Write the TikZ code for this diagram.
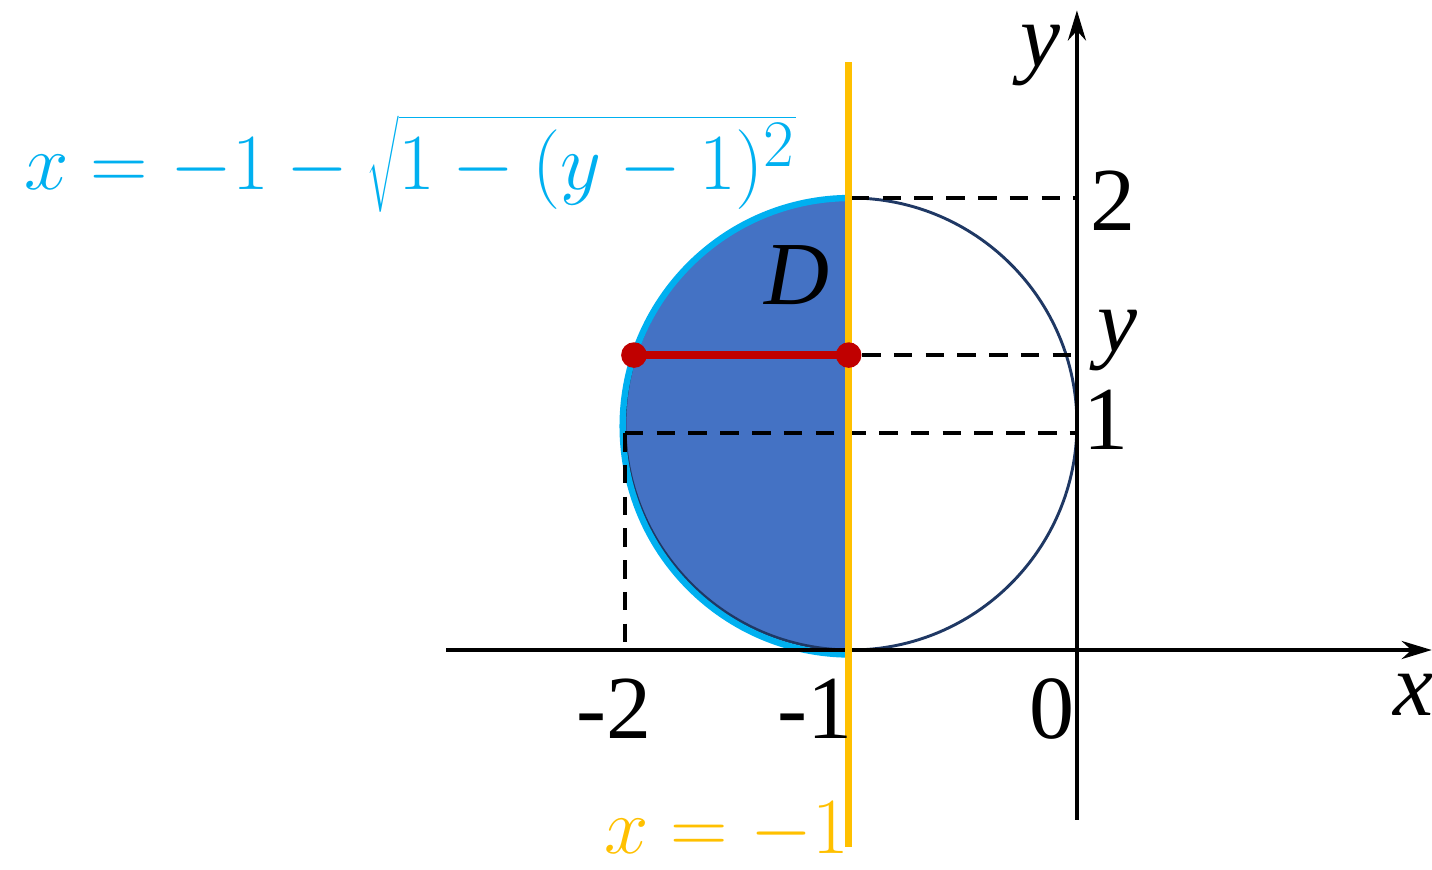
\documentclass[tikz,border=0pt]{standalone}
\usepackage{fontspec}
\setmainfont{Liberation Serif}
\usepackage{xcolor}
\usetikzlibrary{arrows.meta, positioning, calc}

\definecolor{fillblue}{RGB}{68,114,196}
\definecolor{skyblue}{RGB}{0,176,240}
\definecolor{gold}{RGB}{255,192,0}
\definecolor{navy}{RGB}{31,56,100}
\definecolor{darkred}{RGB}{192,0,0}

\begin{document}
\begin{tikzpicture}[x=3cm, y=3cm,
			axis/.style={-{Stealth[length=4mm, width=2.4mm]}, line width=1.5pt},
			guide/.style={dashed, dash pattern=on 7pt off 5pt, line width=1.3pt},
			lbl/.style={font=\fontsize{34}{40}\selectfont},
			formula/.style={font=\fontsize{24.88}{30}\selectfont, inner sep=0pt, transform shape},
			dot/.style={circle, fill=darkred, inner sep=0pt, minimum size=3.4mm}
			]
			\useasboundingbox (-4.765,-0.969) rectangle (1.571,2.876);
			% region D and circle
			\fill[fillblue] (-1,0) arc[start angle=-90, end angle=-270, radius=1] -- cycle;
			\draw[navy, line width=1.1pt] (-1,1) circle[radius=1];
			\draw[skyblue, line width=2.4pt] (-1,2) arc[start angle=90, end angle=270, radius=1.01];
			
			% dashed guides
			\coordinate (top) at (-1,2);
			\coordinate (ytop) at (0,2);
			\coordinate (yone) at (0,0.96);
			\coordinate (left) at (-2,0.96);
			\coordinate (foot) at (-2,0);
			\draw[guide] (top) -- (ytop);
			\draw[guide] (left) -- (yone);
			\draw[guide] (left) -- (foot);
			
			% axes
			\coordinate (xs) at (-2.79,0);
			\coordinate (xe) at (1.57,0);
			\coordinate (ys) at (0,-0.75);
			\coordinate (ye) at (0,2.83);
			\draw[axis] (xs) -- (xe);
			\draw[axis] (ys) -- (ye);
			
			% line x=-1
			\coordinate (ls) at (-1.01,-0.87);
			\coordinate (le) at (-1.01,2.6);
			\draw[gold, line width=2.4pt] (ls) -- (le);
			
			% slice at height y
			\node[dot] (pl) at (-1.96,1.305) {};
			\node[dot] (pr) at (-1.01,1.305) {};
			\coordinate (py) at (0,1.305);
			\draw[guide] (pr) -- (py);
			\draw[darkred, line width=3pt] (pl.center) -- (pr.center);
			
			% labels
			\node[lbl] (l2) at (0.16,1.99) {2};
			\node[lbl] (ly) at (0.18,1.37) {\itshape y};
			\node[lbl] (l1) at (0.13,1.02) {1};
			\node[lbl] (lm2) at (-2.05,-0.26) {-2};
			\node[lbl] (lm1) at (-1.16,-0.26) {-1};
			\node[lbl] (l0) at (-0.11,-0.26) {0};
			\node[lbl] (lx) at (1.49,-0.2) {\itshape x};
			\node[lbl] (lyax) at (-0.16,2.63) {\itshape y};
			\node[lbl] (lD) at (-1.24,1.66) {\itshape D};
			\node[formula, skyblue, scale=1.21] (eqc) at (-2.95,2.15) {$x=-1-\sqrt{1-(y-1)^2}$};
			\node[formula, gold, scale=1.21] (eql) at (-1.55,-0.8) {$x=-1$};
		\end{tikzpicture}
\end{document}
